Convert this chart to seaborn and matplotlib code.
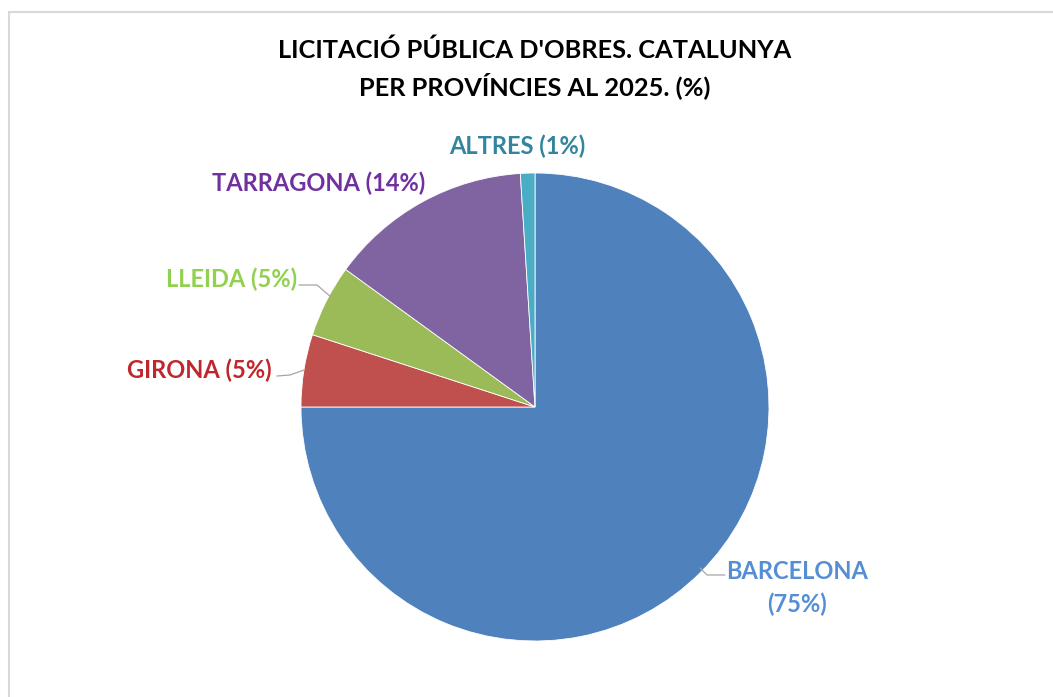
import matplotlib
matplotlib.use('Agg')
import matplotlib.pyplot as plt
import seaborn as sns
from matplotlib.patches import Rectangle

# data
provinces = ['BARCELONA', 'GIRONA', 'LLEIDA', 'TARRAGONA', 'ALTRES']
shares = [75, 5, 5, 14, 1]
wedge_colors = ['#4F81BD', '#C0504D', '#9BBB59', '#8064A2', '#4BACC6']
label_colors = ['#558ED5', '#C0272D', '#92D050', '#7030A0', '#31859C']

sns.set_theme(style='white')
plt.rcParams['font.family'] = ['Lato', 'DejaVu Sans']

fig = plt.figure(figsize=(10.53, 6.97), dpi=100)
fig.patch.set_facecolor('white')

# light chart frame
fig.add_artist(Rectangle((9 / 1053, -0.1), 1.2, (697 - 12) / 697 + 0.1,
                         transform=fig.transFigure, fill=False,
                         edgecolor='#D9D9D9', linewidth=1.5))

cx, cy, r = 535, 407, 234
ax = fig.add_axes([(cx - r) / 1053, (697 - cy - r) / 697, 2 * r / 1053, 2 * r / 697])
ax.pie(shares, colors=wedge_colors, startangle=90, counterclock=False,
       wedgeprops=dict(linewidth=0.6, edgecolor='white'))
ax.set_xlim(-1, 1)
ax.set_ylim(-1, 1)
ax.set_axis_off()


def d(px, py):
    return ((px - cx) / r, (cy - py) / r)


label_font = dict(fontsize=17, fontweight='bold')
texts = [f'{p} ({s}%)' for p, s in zip(provinces, shares)]

# barcelona, two lines
ax.text(*d(797, 588), 'BARCELONA\n(75%)', color=label_colors[0], ha='center', va='center',
        linespacing=1.45, **label_font)
ax.plot(*zip(d(700, 568), d(707, 575), d(725, 575)), color='#A6A6A6', lw=0.9, clip_on=False)

ax.text(*d(272, 370), texts[1], color=label_colors[1], ha='right', va='center', **label_font)
ax.plot(*zip(d(277, 376), d(290, 375), d(304, 370)), color='#A6A6A6', lw=0.9, clip_on=False)

ax.text(*d(297, 279), texts[2], color=label_colors[2], ha='right', va='center', **label_font)
ax.plot(*zip(d(299, 285), d(317, 285), d(331, 297)), color='#A6A6A6', lw=0.9, clip_on=False)

ax.text(*d(319, 183), texts[3], color=label_colors[3], ha='center', va='center', **label_font)
ax.text(*d(517, 146), texts[4], color=label_colors[4], ha='center', va='center', **label_font)

fig.text(535 / 1053, 1 - 69 / 697, "LICITACIÓ PÚBLICA D'OBRES. CATALUNYA\nPER PROVÍNCIES AL 2025. (%)",
         ha='center', va='center', fontsize=18.3, fontweight='bold', color='#000000',
         linespacing=1.45)

fig.savefig('out.png', dpi=100)
